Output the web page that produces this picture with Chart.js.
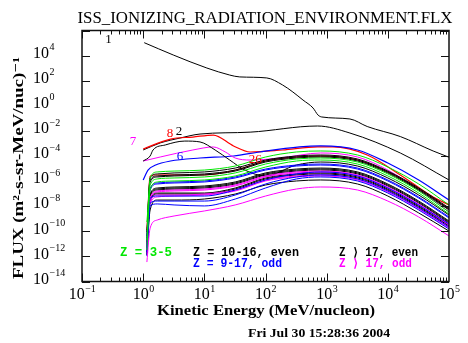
<!DOCTYPE html>
<html>
<head>
<meta charset="utf-8">
<script src="https://cdn.jsdelivr.net/npm/chart.js@4.4.0/dist/chart.umd.min.js"></script>
<style>
html, body { margin: 0; padding: 0; background: #fff; }
#wrap { width: 468px; height: 343px; }
</style>
</head>
<body>
<div id="wrap"><canvas id="chart" width="468" height="343"></canvas></div>
<script>
// Values. Flux is kept as log10(flux), energy in MeV/nucleon.
const xTickExponents = [-1, 0, 1, 2, 3, 4, 5];
const yTickExponents = [4, 2, 0, -2, -4, -6, -8, -10, -12, -14];

// Z = 1
const energyH = [1.04, 3.1, 11, 26, 38, 105, 190, 280, 410, 600, 720, 830, 2400, 4600, 16000, 55000, 100000];
const logFluxH = [5.03, 4.05, 3.01, 2.45, 2.30, 2.22, 1.66, 1.10, 0.46, -0.18, -0.73, -0.89, -1.05, -1.65, -2.45, -3.6, -4.1];

// Z = 2 (two curves)
const energyHe = [1, 1.9, 4, 8.5, 56, 710, 2400, 16000, 100000];
const logFluxHe = [-3.52, -2.96, -2.57, -2.25, -2.10, -1.61, -2.17, -3.76, -5.91];
const energyHe2 = [1, 1.3, 1.45, 2.3, 4.8, 8.5, 15, 26, 46, 100, 320, 800, 3200, 10000, 32000, 100000];
const logFluxHe2 = [-4.40, -4.00, -3.52, -3.12, -2.81, -2.88, -3.52, -4.32, -5.12, -5.59, -4.72, -4.48, -4.80, -5.75, -7.11, -8.70];

// Z = 6, 7, 8
const energyC = [1, 1.2, 1.6, 2.8, 8.5, 30, 80, 360, 800, 3200, 10000, 32000, 100000];
const logFluxC = [-5.91, -5.12, -4.72, -4.40, -4.16, -4.00, -3.68, -3.28, -3.20, -3.52, -4.56, -5.91, -7.51];
const energyN = [1, 1.9, 6.5, 14, 22, 32, 56, 175, 800, 3200, 10000, 32000, 100000];
const logFluxN = [-4.40, -4.08, -3.52, -3.28, -3.68, -4.16, -4.32, -4.16, -3.76, -4.08, -5.12, -6.71, -8.46];
const energyO = [1, 2.8, 6.5, 14, 30, 56, 190, 710, 1260, 4600, 16000, 55000, 100000];
const logFluxO = [-3.44, -2.65, -2.49, -2.33, -3.20, -3.68, -3.52, -3.28, -3.28, -3.92, -5.51, -7.27, -7.90];

// the heavy-ion band, all on one energy grid
const bandEnergy = [1.15, 1.3, 1.7, 3.2, 10, 32, 100, 320, 800, 3200, 10000, 32000, 100000];
// Z = 3-5
const logFluxLi = [-11.49, -6.71, -6.07, -5.99, -5.91, -5.59, -4.88, -4.40, -4.32, -4.64, -5.59, -6.95, -8.62];
const logFluxBe = [-9.26, -6.31, -5.83, -5.75, -5.67, -5.35, -4.64, -4.24, -4.16, -4.48, -5.43, -6.79, -8.46];
const logFluxB = [-10.69, -5.75, -5.27, -5.20, -5.12, -4.80, -4.08, -3.68, -3.60, -3.92, -4.88, -6.23, -7.90];
// Z = 10-16, even
const logFluxNe = [-10.06, -5.75, -5.43, -5.35, -5.27, -4.96, -4.32, -4.00, -3.92, -4.24, -5.20, -6.55, -8.14];
const logFluxMg = [-10.37, -5.91, -5.59, -5.51, -5.43, -5.12, -4.40, -4.08, -4.00, -4.32, -5.27, -6.63, -8.22];
const logFluxSi = [-10.53, -6.07, -5.67, -5.59, -5.51, -5.20, -4.48, -4.16, -4.08, -4.40, -5.35, -6.71, -8.30];
const logFluxS = [-11.17, -7.03, -6.55, -6.47, -6.39, -6.07, -5.35, -5.04, -4.96, -5.27, -6.23, -7.59, -9.18];
// Z = 9-17, odd
const logFluxF = [-11.33, -7.35, -7.19, -7.19, -7.19, -6.71, -5.91, -5.43, -5.27, -5.59, -6.55, -7.90, -9.42];
const logFluxNa = [-10.69, -6.55, -6.15, -6.07, -5.99, -5.67, -5.04, -4.72, -4.64, -4.96, -5.91, -7.27, -8.86];
const logFluxAl = [-10.85, -6.71, -6.23, -6.15, -6.07, -5.75, -5.12, -4.80, -4.72, -5.04, -5.99, -7.35, -8.94];
const logFluxP = [-11.65, -7.75, -7.59, -7.59, -7.59, -7.11, -6.23, -5.67, -5.51, -5.83, -6.79, -8.14, -9.66];
const logFluxCl = [-11.97, -7.98, -7.82, -7.90, -7.98, -7.43, -6.55, -5.83, -5.67, -5.99, -6.95, -8.30, -9.82];
// Z > 17, even
const logFluxAr = [-11.33, -7.19, -6.71, -6.63, -6.55, -6.23, -5.51, -5.20, -5.12, -5.43, -6.39, -7.75, -9.34];
const logFluxCa = [-11.25, -7.11, -6.63, -6.55, -6.47, -6.15, -5.43, -5.12, -5.04, -5.35, -6.31, -7.67, -9.26];
const logFluxTi = [-11.49, -7.51, -6.95, -6.95, -6.95, -6.55, -5.75, -5.43, -5.35, -5.67, -6.63, -7.98, -9.50];
const logFluxCr = [-11.65, -7.67, -7.03, -7.03, -7.03, -6.63, -5.83, -5.51, -5.43, -5.75, -6.71, -8.06, -9.58];
const logFluxNi = [-11.89, -8.30, -7.51, -7.51, -7.43, -7.03, -6.31, -5.99, -5.91, -6.23, -7.19, -8.54, -9.98];
// Z > 17, odd
const logFluxK = [-11.49, -7.35, -6.79, -6.71, -6.63, -6.31, -5.59, -5.27, -5.20, -5.51, -6.47, -7.82, -9.42];
const logFluxSc = [-11.73, -7.67, -7.11, -7.11, -7.03, -6.71, -5.91, -5.59, -5.51, -5.83, -6.79, -8.14, -9.66];
const logFluxV = [-11.57, -7.43, -6.87, -6.79, -6.71, -6.39, -5.67, -5.35, -5.27, -5.59, -6.55, -7.90, -9.50];
const logFluxMn = [-11.81, -7.82, -7.27, -7.19, -7.11, -6.79, -5.99, -5.67, -5.59, -5.91, -6.87, -8.22, -9.74];
const logFluxCo = [-12.45, -9.74, -9.10, -8.78, -8.38, -7.90, -7.19, -6.63, -6.47, -6.71, -7.59, -8.86, -10.37];
// Z = 26
const logFluxFe = [-9.90, -5.59, -5.51, -5.51, -5.51, -5.12, -4.40, -4.08, -4.00, -4.32, -5.27, -6.63, -8.22];

const GREEN = '#00e600', BLUE = '#0000ff', MAGENTA = '#ff00ff', RED = '#ff0000', BLACK = '#000000';

function series(label, energy, logFlux, color, width) {
    return {
        label: label,
        data: energy.map((e, i) => ({ x: e, y: Math.pow(10, logFlux[i]) })),
        borderColor: color,
        borderWidth: width || 1,
        pointRadius: 0,
        fill: false,
        cubicInterpolationMode: 'monotone'
    };
}

const datasets = [
    series('Li', bandEnergy, logFluxLi, GREEN),
    series('Be', bandEnergy, logFluxBe, GREEN),
    series('B', bandEnergy, logFluxB, GREEN),
    series('Co', bandEnergy, logFluxCo, MAGENTA),
    series('Cl', bandEnergy, logFluxCl, BLUE),
    series('P', bandEnergy, logFluxP, BLUE),
    series('F', bandEnergy, logFluxF, BLUE),
    series('Ni', bandEnergy, logFluxNi, BLACK),
    series('Mn', bandEnergy, logFluxMn, MAGENTA),
    series('Sc', bandEnergy, logFluxSc, MAGENTA),
    series('V', bandEnergy, logFluxV, MAGENTA),
    series('K', bandEnergy, logFluxK, MAGENTA),
    series('Cr', bandEnergy, logFluxCr, BLACK),
    series('Ti', bandEnergy, logFluxTi, BLACK),
    series('Ar', bandEnergy, logFluxAr, BLACK),
    series('Ca', bandEnergy, logFluxCa, BLACK),
    series('S', bandEnergy, logFluxS, BLACK),
    series('Na', bandEnergy, logFluxNa, BLUE),
    series('Al', bandEnergy, logFluxAl, BLUE),
    series('Si', bandEnergy, logFluxSi, BLACK),
    series('Mg', bandEnergy, logFluxMg, BLACK),
    series('Ne', bandEnergy, logFluxNe, BLACK),
    series('Fe', bandEnergy, logFluxFe, RED),
    series('He2', energyHe2, logFluxHe2, BLACK),
    series('N', energyN, logFluxN, MAGENTA),
    series('C', energyC, logFluxC, BLUE, 1.2),
    series('O', energyO, logFluxO, RED, 1.2),
    series('He', energyHe, logFluxHe, BLACK),
    series('H', energyH, logFluxH, BLACK)
];

// draw text squeezed/stretched to a given width
function fitText(ctx, text, x, y, width, font, color, align) {
    ctx.save();
    ctx.font = font;
    ctx.fillStyle = color;
    ctx.textBaseline = 'middle';
    ctx.textAlign = align || 'center';
    const w = ctx.measureText(text).width;
    ctx.translate(x, y);
    ctx.scale(width / w, 1);
    ctx.fillText(text, 0, 0);
    ctx.restore();
}

function powerLabel(ctx, exp, x, y, align) {
    const base = '10', sup = String(exp).replace('-', '\u2212');
    ctx.save();
    ctx.fillStyle = '#000';
    ctx.textBaseline = 'middle';
    ctx.textAlign = 'left';
    ctx.font = '16px "Liberation Serif", "DejaVu Serif", serif';
    const wb = ctx.measureText(base).width;
    ctx.font = '10px "Liberation Serif", "DejaVu Serif", serif';
    const ws = ctx.measureText(sup).width;
    const x0 = align === 'center' ? x - (wb + ws) / 2 : x;
    ctx.font = '16px "Liberation Serif", "DejaVu Serif", serif';
    ctx.fillText(base, x0, y);
    ctx.font = '10px "Liberation Serif", "DejaVu Serif", serif';
    ctx.fillText(sup, x0 + wb + 0.5, y - 6);
    ctx.restore();
}

const framePlugin = {
    id: 'frame',
    afterDraw(chart) {
        const ctx = chart.ctx;
        const xs = chart.scales.x, ys = chart.scales.y;
        const { left, right, top, bottom } = chart.chartArea;

        ctx.save();
        ctx.strokeStyle = '#111';
        ctx.lineWidth = 1.5;
        ctx.strokeRect(left, top, right - left, bottom - top);

        ctx.lineWidth = 1;
        ctx.beginPath();
        for (let d = -1; d <= 4; d++) {
            for (let m = 1; m <= 9; m++) {
                const px = Math.round(xs.getPixelForValue(m * Math.pow(10, d))) + 0.5;
                const len = m === 1 ? 8 : 4;
                ctx.moveTo(px, bottom); ctx.lineTo(px, bottom - len);
                ctx.moveTo(px, top); ctx.lineTo(px, top + len);
            }
        }
        for (let e = -14; e <= 6; e += 2) {
            const py = Math.round(ys.getPixelForValue(Math.pow(10, e))) + 0.5;
            ctx.moveTo(left, py); ctx.lineTo(left + 8, py);
            ctx.moveTo(right, py); ctx.lineTo(right - 8, py);
        }
        ctx.stroke();
        ctx.restore();

        yTickExponents.forEach(e => powerLabel(ctx, e, 33, ys.getPixelForValue(Math.pow(10, e)) - 2, 'left'));
        xTickExponents.forEach(e => powerLabel(ctx, e, xs.getPixelForValue(Math.pow(10, e)), 295, 'center'));

        const serif = '"Liberation Serif", "DejaVu Serif", serif';
        fitText(ctx, 'ISS_IONIZING_RADIATION_ENVIRONMENT.FLX', 265, 19, 375, '17px ' + serif, '#000');
        fitText(ctx, 'Kinetic Energy (MeV/nucleon)', 266, 311, 218, 'bold 15px ' + serif, '#000');
        fitText(ctx, 'Fri Jul 30 15:28:36 2004', 319, 334, 142, 'bold 12px ' + serif, '#000');

        ctx.save();
        ctx.translate(19, 168);
        ctx.rotate(-Math.PI / 2);
        fitText(ctx, 'FLUX (m\u00b2-s-sr-MeV/nuc)\u207b\u00b9', 0, 0, 222, 'bold 14px ' + serif, '#000');
        ctx.restore();

        const mono = 'bold 12px "Liberation Mono", "DejaVu Sans Mono", monospace';
        fitText(ctx, 'Z = 3-5', 120, 253, 52, mono, GREEN, 'left');
        fitText(ctx, 'Z = 10-16, even', 193, 253, 106, mono, BLACK, 'left');
        fitText(ctx, 'Z = 9-17, odd', 193, 264, 89, mono, BLUE, 'left');
        fitText(ctx, 'Z \u27e9 17, even', 339, 253, 79, mono, BLACK, 'left');
        fitText(ctx, 'Z \u27e9 17, odd', 339, 264, 73, mono, MAGENTA, 'left');

        // curve numbers, placed in data coordinates
        ctx.save();
        ctx.font = '13px ' + serif;
        ctx.textAlign = 'center';
        ctx.textBaseline = 'middle';
        const tag = (t, e, f, c) => {
            ctx.fillStyle = c;
            ctx.fillText(t, xs.getPixelForValue(e), ys.getPixelForValue(f));
        };
        tag('1', 0.27, Math.pow(10, 5.24), BLACK);
        tag('7', 0.68, Math.pow(10, -2.88), MAGENTA);
        tag('8', 2.74, Math.pow(10, -2.25), RED);
        tag('2', 3.85, Math.pow(10, -2.09), BLACK);
        tag('6', 4.0, Math.pow(10, -4.08), BLUE);
        tag('26', 68, Math.pow(10, -4.32), RED);
        ctx.restore();
    }
};

new Chart(document.getElementById('chart'), {
    type: 'line',
    data: { datasets: datasets },
    options: {
        responsive: false,
        devicePixelRatio: 1,
        animation: false,
        layout: { padding: { left: 82, right: 19, top: 30.5, bottom: 61.5 } },
        plugins: { legend: { display: false }, tooltip: { enabled: false } },
        scales: {
            x: { type: 'logarithmic', min: 0.1, max: 100000, display: false },
            y: { type: 'logarithmic', min: 1e-14, max: 1e6, display: false }
        }
    },
    plugins: [framePlugin]
});
</script>
</body>
</html>
